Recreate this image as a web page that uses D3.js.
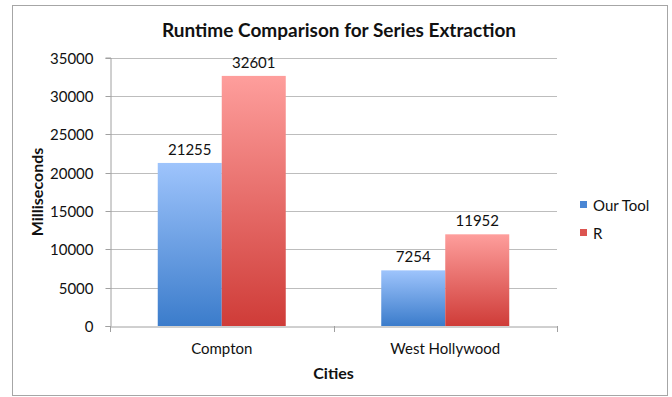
<!DOCTYPE html>
<html><head><meta charset="utf-8">
<script src="https://cdn.jsdelivr.net/npm/d3@7"></script>
<style>body{margin:0;background:#fff}svg{display:block}text{font-family:Lato,"Open Sans",sans-serif;fill:#111}</style>
</head><body>
<svg id="c" width="672" height="397"></svg>
<script>
const categories = ["Compton", "West Hollywood"];
const seriesNames = ["Our Tool", "R"];
const ourTool = [21255, 7254];
const rValues = [32601, 11952];
const yTicks = [0, 5000, 10000, 15000, 20000, 25000, 30000, 35000];

const svg = d3.select("#c");
const m = {left: 110, right: 557, top: 57.5, bottom: 326};

svg.append("rect").attr("x", 12.5).attr("y", 5.5).attr("width", 655).attr("height", 390)
  .attr("fill", "#fff").attr("stroke", "#a6a6a6").attr("stroke-width", 1);

const defs = svg.append("defs");
const grads = [["gBlue", "#9ec4fc", "#3b7ccb"], ["gRed", "#fe9e9c", "#cf3c38"]];
grads.forEach(([id, top, bot]) => {
  const g = defs.append("linearGradient").attr("id", id).attr("x1", 0).attr("y1", 0).attr("x2", 0).attr("y2", 1);
  g.append("stop").attr("offset", "0%").attr("stop-color", top);
  g.append("stop").attr("offset", "100%").attr("stop-color", bot);
});

const y = d3.scaleLinear().domain([0, 35000]).range([m.bottom, m.top]);
const x0 = d3.scaleBand().domain(categories).range([m.left, m.right]).padding(0);
const groupFrac = 128 / 223.5;
const x1 = d3.scaleBand().domain(seriesNames)
  .range([x0.bandwidth() * (1 - groupFrac) / 2, x0.bandwidth() * (1 + groupFrac) / 2]).padding(0);

// gridlines
svg.append("g").selectAll("line").data(yTicks.filter(d => d > 0)).join("line")
  .attr("x1", m.left).attr("x2", m.right)
  .attr("y1", d => Math.round(y(d)) + 0.5).attr("y2", d => Math.round(y(d)) + 0.5)
  .attr("stroke", "#bdbdbd").attr("stroke-width", 1);

// y axis
const yAxis = d3.axisLeft(y).tickValues(yTicks).tickSize(5).tickPadding(12).tickFormat(d3.format("d"));
const gy = svg.append("g").attr("transform", `translate(${m.left + 0.5},0)`).call(yAxis);
gy.select(".domain").attr("stroke", "#a0a0a0");
gy.selectAll(".tick line").attr("stroke", "#a0a0a0");
gy.selectAll(".tick").attr("transform", d => `translate(0,${Math.round(y(d)) + 0.5})`);
gy.selectAll("text").style("font-size", "15px").style("font-family", "Lato").attr("fill", "#111").attr("dy", "0.35em");

// bars
const data = categories.map((c, i) => ({cat: c, vals: [{s: "Our Tool", v: ourTool[i]}, {s: "R", v: rValues[i]}]}));
const groups = svg.append("g").selectAll("g").data(data).join("g")
  .attr("transform", d => `translate(${x0(d.cat)},0)`);
groups.selectAll("rect").data(d => d.vals).join("rect")
  .attr("x", d => x1(d.s)).attr("width", x1.bandwidth())
  .attr("y", d => y(d.v)).attr("height", d => y(0) - y(d.v))
  .attr("fill", d => d.s === "Our Tool" ? "url(#gBlue)" : "url(#gRed)");
groups.selectAll("text").data(d => d.vals).join("text")
  .attr("x", d => x1(d.s) + x1.bandwidth() / 2).attr("y", d => y(d.v) - 8)
  .attr("text-anchor", "middle").style("font-size", "15px").text(d => d.v);

// x axis
const xAxis = d3.axisBottom(x0).tickSize(0).tickPadding(17);
const gx = svg.append("g").attr("transform", `translate(0,${m.bottom + 0.5})`).call(xAxis);
gx.select(".domain").attr("stroke", "#a0a0a0");
gx.selectAll("text").style("font-size", "15px").style("font-family", "Lato").attr("fill", "#111");
svg.append("g").selectAll("line").data([...categories.map(c => x0(c)), m.right]).join("line")
  .attr("x1", d => Math.round(d) + 0.5).attr("x2", d => Math.round(d) + 0.5)
  .attr("y1", m.bottom).attr("y2", m.bottom + 6).attr("stroke", "#a0a0a0");

// titles
svg.append("text").attr("x", 339).attr("y", 37).attr("text-anchor", "middle")
  .style("font-size", "19px").style("font-weight", "bold").text("Runtime Comparison for Series Extraction");
svg.append("text").attr("x", (m.left + m.right) / 2).attr("y", 379).attr("text-anchor", "middle")
  .style("font-size", "16px").style("font-weight", "bold").text("Cities");
svg.append("text").attr("transform", "translate(43,192) rotate(-90)").attr("text-anchor", "middle")
  .style("font-size", "16px").style("font-weight", "bold").text("Milliseconds");

// legend
const legColors = ["#4a86d4", "#dc5450"];
const leg = svg.append("g").selectAll("g").data(seriesNames).join("g")
  .attr("transform", (d, i) => `translate(580,${201 + i * 28})`);
leg.append("rect").attr("width", 7).attr("height", 7).attr("fill", (d, i) => legColors[i]);
leg.append("text").attr("x", 13).attr("y", 9.5).style("font-size", "15px").text(d => d);
</script>
</body></html>
